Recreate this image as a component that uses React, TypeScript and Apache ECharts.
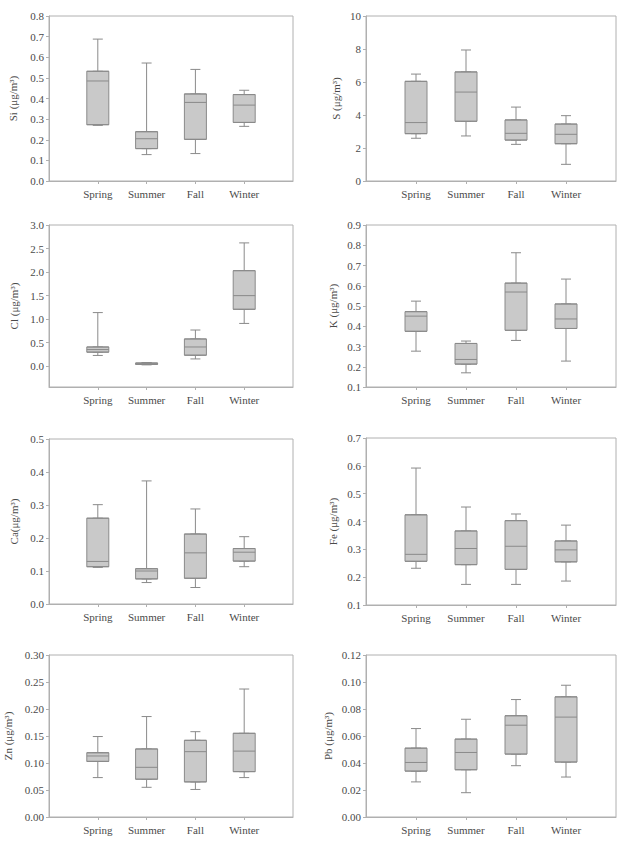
import React, { useEffect, useRef } from 'react';
import * as echarts from 'echarts';

const seasons = ['Spring', 'Summer', 'Fall', 'Winter'];
const seasonPos = [1, 2, 3, 4];

// each entry: [min, Q1, median, Q3, max] for Spring, Summer, Fall, Winter
const si = [
  [0.270, 0.273, 0.485, 0.532, 0.688],
  [0.128, 0.157, 0.205, 0.239, 0.572],
  [0.133, 0.202, 0.381, 0.422, 0.541],
  [0.265, 0.284, 0.368, 0.419, 0.440],
];
const s = [
  [2.59, 2.87, 3.54, 6.04, 6.48],
  [2.73, 3.62, 5.39, 6.61, 7.94],
  [2.22, 2.48, 2.89, 3.70, 4.48],
  [1.01, 2.26, 2.83, 3.45, 3.96],
];
const cl = [
  [0.23, 0.30, 0.355, 0.41, 1.14],
  [0.03, 0.04, 0.055, 0.07, 0.08],
  [0.156, 0.235, 0.41, 0.58, 0.77],
  [0.91, 1.21, 1.50, 2.03, 2.62],
];
const k = [
  [0.277, 0.375, 0.45, 0.472, 0.524],
  [0.17, 0.213, 0.236, 0.315, 0.327],
  [0.33, 0.38, 0.569, 0.613, 0.763],
  [0.228, 0.389, 0.436, 0.51, 0.633],
];
const ca = [
  [0.111, 0.113, 0.129, 0.26, 0.301],
  [0.065, 0.076, 0.10, 0.107, 0.373],
  [0.05, 0.078, 0.155, 0.212, 0.288],
  [0.113, 0.13, 0.157, 0.168, 0.204],
];
const fe = [
  [0.232, 0.257, 0.282, 0.424, 0.592],
  [0.174, 0.245, 0.303, 0.366, 0.452],
  [0.174, 0.228, 0.311, 0.403, 0.427],
  [0.186, 0.255, 0.298, 0.33, 0.387],
];
const zn = [
  [0.073, 0.103, 0.113, 0.119, 0.149],
  [0.055, 0.070, 0.092, 0.126, 0.186],
  [0.051, 0.065, 0.121, 0.142, 0.158],
  [0.073, 0.084, 0.122, 0.155, 0.237],
];
const pb = [
  [0.026, 0.034, 0.0404, 0.051, 0.0655],
  [0.018, 0.035, 0.0478, 0.0577, 0.0724],
  [0.038, 0.0466, 0.068, 0.075, 0.087],
  [0.0296, 0.0407, 0.074, 0.089, 0.0976],
];

// y tick labels
const siTicks = [0, 0.1, 0.2, 0.3, 0.4, 0.5, 0.6, 0.7, 0.8];
const sTicks = [0, 2, 4, 6, 8, 10];
const clTicks = [0, 0.5, 1.0, 1.5, 2.0, 2.5, 3.0];
const kTicks = [0.1, 0.2, 0.3, 0.4, 0.5, 0.6, 0.7, 0.8, 0.9];
const caTicks = [0, 0.1, 0.2, 0.3, 0.4, 0.5];
const feTicks = [0.1, 0.2, 0.3, 0.4, 0.5, 0.6, 0.7];
const znTicks = [0, 0.05, 0.10, 0.15, 0.20, 0.25, 0.30];
const pbTicks = [0, 0.02, 0.04, 0.06, 0.08, 0.10, 0.12];

const panels = [
  { name: 'Si (μg/m³)', data: si, ticks: siTicks, min: 0, max: 0.8, dec: 1 },
  { name: 'S (μg/m³)', data: s, ticks: sTicks, min: 0, max: 10, dec: 0 },
  { name: 'Cl (μg/m³)', data: cl, ticks: clTicks, min: -0.44, max: 3.0, dec: 1 },
  { name: 'K (μg/m³)', data: k, ticks: kTicks, min: 0.1, max: 0.9, dec: 1 },
  { name: 'Ca(μg/m³)', data: ca, ticks: caTicks, min: 0, max: 0.5, dec: 1 },
  { name: 'Fe (μg/m³)', data: fe, ticks: feTicks, min: 0.1, max: 0.7, dec: 1 },
  { name: 'Zn (μg/m³)', data: zn, ticks: znTicks, min: 0, max: 0.3, dec: 2 },
  { name: 'Pb (μg/m³)', data: pb, ticks: pbTicks, min: 0, max: 0.12, dec: 2 },
];

// layout (pixels)
const layout = [
  { left: 49, top: 16, width: 244, height: 165, gap: 31 },
  { left: 366, top: 16, width: 250, height: 165, gap: 25 },
  { left: 49, top: 225, width: 244, height: 162, gap: 30 },
  { left: 366, top: 225, width: 250, height: 162, gap: 28 },
  { left: 49, top: 439, width: 244, height: 165, gap: 30 },
  { left: 366, top: 438, width: 250, height: 167, gap: 28 },
  { left: 49, top: 655, width: 244, height: 162, gap: 36 },
  { left: 366, top: 655, width: 250, height: 162, gap: 33 },
];

const FONT = '"Liberation Serif", "Times New Roman", serif';
const TEXT = '#4a4a4a';
const FRAME = '#b0b0b0';
const FILL = '#c9c9c9';
const EDGE = '#8a8a8a';

export default function App() {
  const ref = useRef<HTMLDivElement>(null);
  useEffect(() => {
    document.body.style.margin = '0';
    if (!ref.current) return;
    const chart = echarts.init(ref.current, undefined, { renderer: 'svg' });
    const grids: any[] = [];
    const xAxes: any[] = [];
    const hiddenX: any[] = [];
    const yAxes: any[] = [];
    const series: any[] = [];
    panels.forEach((p, i) => {
      const L = layout[i];
      grids.push({
        left: L.left, top: L.top, width: L.width, height: L.height,
        show: true, borderColor: FRAME, borderWidth: 1, backgroundColor: 'transparent',
      });
      xAxes.push({
        type: 'value', gridIndex: i, min: 0, max: 5,
        axisLine: { show: true, onZero: false, lineStyle: { color: FRAME } },
        axisTick: { show: true, customValues: seasonPos, length: 3, lineStyle: { color: FRAME } },
        axisLabel: {
          customValues: seasonPos,
          formatter: (v: number) => seasons[Math.round(v) - 1] || '',
          fontFamily: FONT, fontSize: 11, color: TEXT, margin: 7,
        },
        splitLine: { show: false },
      });
      hiddenX.push({ type: 'value', gridIndex: i, min: 0, max: 5, show: false });
      yAxes.push({
        type: 'value', gridIndex: i, min: p.min, max: p.max,
        axisLine: { show: true, onZero: false, lineStyle: { color: FRAME } },
        axisTick: { show: true, customValues: p.ticks, length: 3, lineStyle: { color: FRAME } },
        axisLabel: {
          customValues: p.ticks,
          formatter: (v: number) => v.toFixed(p.dec),
          fontFamily: FONT, fontSize: 11, color: TEXT, margin: 5,
        },
        splitLine: { show: false },
        name: p.name, nameLocation: 'middle', nameRotate: 90, nameGap: L.gap,
        nameTextStyle: { fontFamily: FONT, fontSize: 11, color: TEXT },
      });
      series.push({
        type: 'boxplot', layout: 'horizontal', xAxisIndex: i, yAxisIndex: i,
        boxWidth: [10, 10],
        data: p.data.map((d, j) => [seasonPos[j], d[0], d[1], d[2], d[3], d[4]]),
        itemStyle: { color: FILL, borderColor: EDGE, borderWidth: 1 },
        z: 2,
      });
      series.push({
        type: 'boxplot', layout: 'horizontal', xAxisIndex: 8 + i, yAxisIndex: i,
        boxWidth: [22, 22],
        data: p.data.map((d, j) => [seasonPos[j], d[1], d[1], d[2], d[3], d[3]]),
        itemStyle: { color: FILL, borderColor: EDGE, borderWidth: 1 },
        z: 3,
      });
    });
    chart.setOption({
      animation: false,
      backgroundColor: '#ffffff',
      grid: grids,
      xAxis: [...xAxes, ...hiddenX],
      yAxis: yAxes,
      series,
    });
    return () => chart.dispose();
  }, []);
  return <div ref={ref} style={{ width: 621, height: 850 }} />;
}
